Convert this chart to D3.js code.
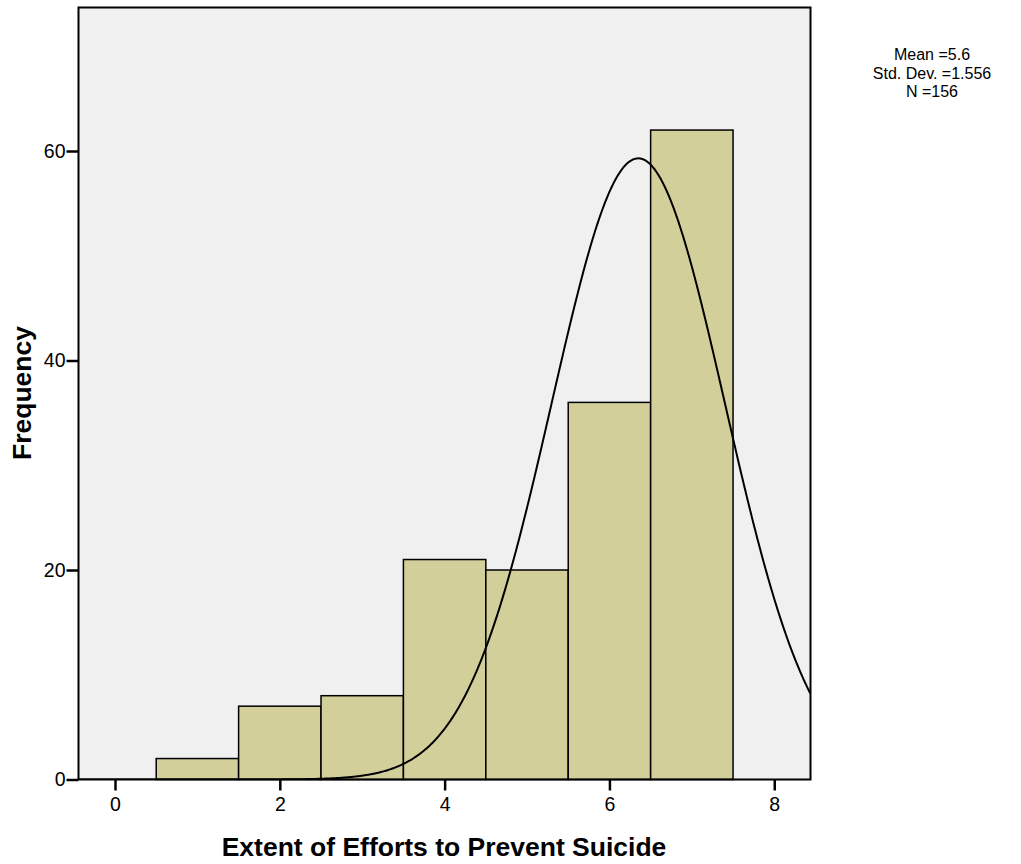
<!DOCTYPE html>
<html>
<head>
<meta charset="utf-8">
<script src="https://cdn.jsdelivr.net/npm/d3@7/dist/d3.min.js"></script>
<style>
  html, body { margin: 0; padding: 0; background: #fff; }
  svg { display: block; font-family: "Liberation Sans", Arial, sans-serif; }
</style>
</head>
<body>
<svg id="chart" width="1021" height="864"></svg>
<script>
// Histogram bins: centre value and count
const binCenters = [1, 2, 3, 4, 5, 6, 7];
const binCounts  = [2, 7, 8, 21, 20, 36, 62];
const binWidth = 1;

// Summary statistics shown beside the plot
const statLines = ["Mean =5.6", "Std. Dev. =1.556", "N =156"];

// Fitted normal curve as drawn: centre, spread, peak height
const curveCenter = 6.35;
const curveSpread = 1.05;
const curvePeak = 59.3;

const xTicks = [0, 2, 4, 6, 8];
const yTicks = [0, 20, 40, 60];

const xDomain = [-0.443, 8.44];
const yDomain = [0, 73.7];

const svg = d3.select("#chart");
const plot = { left: 78.5, right: 810.5, top: 7.5, bottom: 779.5 };
const font = "Liberation Sans, Arial, sans-serif";

const x = d3.scaleLinear().domain(xDomain).range([plot.left, plot.right]);
const y = d3.scaleLinear().domain(yDomain).range([plot.bottom, plot.top]);

// Plot background
svg.append("rect")
  .attr("x", plot.left).attr("y", plot.top)
  .attr("width", plot.right - plot.left).attr("height", plot.bottom - plot.top)
  .attr("fill", "#f0f0f0");

// Bars
svg.append("g").selectAll("rect")
  .data(binCenters.map((c, i) => ({ c, n: binCounts[i] })))
  .join("rect")
  .attr("x", d => x(d.c - binWidth / 2))
  .attr("y", d => y(d.n))
  .attr("width", d => x(d.c + binWidth / 2) - x(d.c - binWidth / 2))
  .attr("height", d => y(0) - y(d.n))
  .attr("fill", "#d3cf9a")
  .attr("stroke", "#000")
  .attr("stroke-width", 1.5);

// Normal curve, clipped to the plot area
svg.append("clipPath").attr("id", "plotclip")
  .append("rect")
  .attr("x", plot.left).attr("y", plot.top)
  .attr("width", plot.right - plot.left).attr("height", plot.bottom - plot.top);

const curvePts = d3.range(xDomain[0], xDomain[1] + 0.005, 0.01).map(v => [
  v, curvePeak * Math.exp(-0.5 * Math.pow((v - curveCenter) / curveSpread, 2))
]);
svg.append("path")
  .datum(curvePts)
  .attr("clip-path", "url(#plotclip)")
  .attr("fill", "none")
  .attr("stroke", "#000")
  .attr("stroke-width", 2)
  .attr("d", d3.line().x(d => x(d[0])).y(d => y(d[1])));

// Frame
svg.append("rect")
  .attr("x", plot.left).attr("y", plot.top)
  .attr("width", plot.right - plot.left).attr("height", plot.bottom - plot.top)
  .attr("fill", "none").attr("stroke", "#000").attr("stroke-width", 2);

// Axes
const xAxis = d3.axisBottom(x).tickValues(xTicks).tickSize(11).tickPadding(7).tickFormat(d3.format("d"));
const gx = svg.append("g").attr("transform", `translate(0,${plot.bottom})`).call(xAxis);
gx.select(".domain").remove();
gx.selectAll(".tick line").attr("stroke", "#000").attr("stroke-width", 2.5);
gx.selectAll(".tick text").attr("font-size", 19.5).attr("fill", "#000").attr("font-family", font);

const yAxis = d3.axisLeft(y).tickValues(yTicks).tickSize(12).tickPadding(1).tickFormat(d3.format("d"));
const gy = svg.append("g").attr("transform", `translate(${plot.left},0)`).call(yAxis);
gy.select(".domain").remove();
gy.selectAll(".tick line").attr("stroke", "#000").attr("stroke-width", 2.5);
gy.selectAll(".tick text").attr("font-size", 19.5).attr("fill", "#000").attr("font-family", font);

// Axis titles
svg.append("text")
  .attr("x", 444).attr("y", 856)
  .attr("text-anchor", "middle")
  .attr("font-size", 26.5).attr("font-weight", "bold")
  .text("Extent of Efforts to Prevent Suicide");

svg.append("text")
  .attr("transform", "translate(31,393) rotate(-90)")
  .attr("text-anchor", "middle")
  .attr("font-size", 26.5).attr("font-weight", "bold")
  .text("Frequency");

// Statistics block
svg.append("g").selectAll("text")
  .data(statLines)
  .join("text")
  .attr("x", 932)
  .attr("y", (d, i) => 60 + i * 18.5)
  .attr("text-anchor", "middle")
  .attr("font-size", 16)
  .text(d => d);
</script>
</body>
</html>
